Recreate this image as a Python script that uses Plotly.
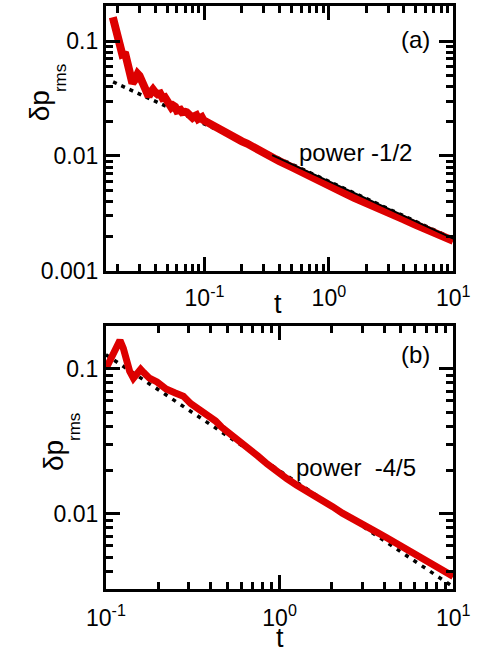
import plotly.graph_objects as go

W, H = 485, 664

# ---- panel (a): rms pressure fluctuation vs time ----
t_a = [0.0183, 0.0190, 0.0197, 0.0204, 0.0212, 0.0218, 0.0224, 0.0229, 0.0236, 0.0245,
       0.0255, 0.0263, 0.0275, 0.0290, 0.0300, 0.0315, 0.0330, 0.0345, 0.0355, 0.0370,
       0.0385, 0.0400, 0.0420, 0.0440, 0.0460, 0.0480, 0.0500, 0.0520, 0.0540, 0.0560,
       0.0580, 0.0600, 0.0620, 0.0640, 0.0660, 0.0680, 0.0700, 0.0720, 0.0740, 0.0770,
       0.0800, 0.0830, 0.0860, 0.0890, 0.0920, 0.0950, 0.0980, 0.1020, 0.1060, 0.1100,
       0.1150, 0.1200, 0.1250, 0.1300, 0.1350, 0.1400, 0.1500, 0.1600, 0.1700, 0.1800,
       0.1900, 0.2000, 0.2200, 0.2400, 0.2700, 0.3000, 0.3500, 0.4000, 0.5000, 0.6000,
       0.7000, 0.8000, 1.0000, 1.3000, 1.6000, 2.0000, 2.5000, 3.0000, 4.0000, 5.0000,
       6.0000, 7.0000, 8.0000, 9.0000, 10.000]
p_a = [0.162, 0.140, 0.122, 0.104, 0.088, 0.077, 0.078, 0.080, 0.068, 0.058,
       0.048, 0.043, 0.046, 0.052, 0.050, 0.044, 0.039, 0.035, 0.033, 0.036,
       0.038, 0.036, 0.0345, 0.0350, 0.0320, 0.0325, 0.0300, 0.0280, 0.0265, 0.0275,
       0.0268, 0.0248, 0.0255, 0.0252, 0.0240, 0.0236, 0.0242, 0.0240, 0.0232, 0.0228,
       0.0215, 0.0222, 0.0226, 0.0210, 0.0212, 0.0218, 0.0205, 0.0200, 0.0192, 0.0190,
       0.0183, 0.0180, 0.0175, 0.0168, 0.0170, 0.0163, 0.0157, 0.0152, 0.0147, 0.0143,
       0.0137, 0.0134, 0.0128, 0.0121, 0.0113, 0.0106, 0.0097, 0.0090, 0.0080, 0.0072,
       0.0066, 0.0062, 0.0055, 0.0048, 0.0043, 0.0039, 0.0035, 0.0032, 0.0028, 0.0025,
       0.00228, 0.00213, 0.00200, 0.00190, 0.00182]

# power-law guide  C * t^k
fit_a_C, fit_a_k = 0.006, -0.5
fit_a_t = [0.0184, 10.0]        # dotted guide extent
solid_a_t = [0.35, 10.0]        # solid black curve extent

# ---- panel (b) ----
t_b = [0.100, 0.105, 0.112, 0.1205, 0.126, 0.131, 0.137, 0.144, 0.150, 0.1585,
       0.165, 0.178, 0.197, 0.222, 0.251, 0.279, 0.308, 0.342, 0.386, 0.428,
       0.464, 0.530, 0.630, 0.750, 0.850, 0.949, 1.10, 1.25, 1.426, 1.60,
       1.82, 2.02, 2.30, 2.74, 3.20, 3.60, 4.12, 5.00, 6.20, 7.50,
       8.50, 9.73, 10.0]
p_b = [0.100, 0.112, 0.136, 0.157, 0.138, 0.115, 0.096, 0.086, 0.092, 0.099,
       0.094, 0.086, 0.081, 0.0724, 0.068, 0.0647, 0.0574, 0.0526, 0.0479, 0.0436,
       0.0395, 0.0350, 0.0301, 0.0250, 0.0220, 0.0198, 0.0175, 0.0158, 0.0145, 0.0131,
       0.0121, 0.0112, 0.0101, 0.0091, 0.0081, 0.0075, 0.00686, 0.0060, 0.0051, 0.0045,
       0.0041, 0.00377, 0.0037]

fit_b_C, fit_b_k = 0.0198, -0.8
fit_b_t = [0.1, 10.0]

x_tickvals = [0.1, 1, 10]
x_ticktext = ["10<sup>-1</sup>", "10<sup>0</sup>", "10<sup>1</sup>"]
ya_tickvals = [0.001, 0.01, 0.1]
ya_ticktext = ["0.001", "0.01", "0.1"]
yb_tickvals = [0.01, 0.1]
yb_ticktext = ["0.01", "0.1"]

RED = "#dd0000"
FONT = "Liberation Sans, Arial, sans-serif"


def power(C, k, ts):
    return [C * t ** k for t in ts]


fig = go.Figure()

# (a)
fig.add_trace(go.Scatter(x=fit_a_t, y=power(fit_a_C, fit_a_k, fit_a_t), mode="lines",
                         line=dict(color="black", width=3.5, dash="4px,5px"),
                         xaxis="x", yaxis="y"))
fig.add_trace(go.Scatter(x=t_a, y=p_a, mode="lines", line=dict(color=RED, width=8),
                         xaxis="x", yaxis="y"))
fig.add_trace(go.Scatter(x=solid_a_t, y=power(fit_a_C, fit_a_k, solid_a_t), mode="lines",
                         line=dict(color="black", width=2), xaxis="x", yaxis="y"))

# (b)
fig.add_trace(go.Scatter(x=fit_b_t, y=power(fit_b_C, fit_b_k, fit_b_t), mode="lines",
                         line=dict(color="black", width=3.5, dash="4px,6px"),
                         xaxis="x2", yaxis="y2"))
fig.add_trace(go.Scatter(x=t_b, y=p_b, mode="lines", line=dict(color=RED, width=7),
                         xaxis="x2", yaxis="y2"))


def px(x):
    return x / W


def py(y):
    return 1 - y / H


def axis_style(**kw):
    d = dict(type="log", showline=True, linewidth=3, linecolor="black", mirror="ticks",
             ticks="inside", ticklen=14, tickwidth=2.5, tickcolor="black",
             showgrid=False, zeroline=False, ticklabeloverflow="allow",
             tickfont=dict(family=FONT, size=23, color="black"),
             minor=dict(ticks="inside", ticklen=7, tickwidth=2.5, tickcolor="black",
                        dtick="D1", showgrid=False))
    d.update(kw)
    return d


fig.update_layout(
    width=W, height=H, margin=dict(l=0, r=0, t=0, b=0),
    paper_bgcolor="white", plot_bgcolor="white", showlegend=False,
    xaxis=axis_style(range=[-1.793, 1], domain=[px(93), px(469)], anchor="y",
                     tickmode="array", tickvals=x_tickvals, ticktext=x_ticktext,
                     ticklabelstandoff=5),
    yaxis=axis_style(range=[-3, -0.692], domain=[py(276), py(6)], anchor="x",
                     tickmode="array", tickvals=ya_tickvals, ticktext=ya_ticktext),
    xaxis2=axis_style(range=[-1, 1], domain=[px(93), px(469)], anchor="y2",
                      tickmode="array", tickvals=x_tickvals, ticktext=x_ticktext,
                      ticklabelstandoff=6),
    yaxis2=axis_style(range=[-2.52, -0.709], domain=[py(601), py(333)], anchor="x2",
                      tickmode="array", tickvals=yb_tickvals, ticktext=yb_ticktext),
)


def label(text, x, y, size, angle=0):
    fig.add_annotation(text=text, x=px(x), y=py(y), xref="paper", yref="paper",
                       showarrow=False, textangle=angle, xanchor="center", yanchor="middle",
                       font=dict(family=FONT, size=size, color="black"))


# panel tags and power-law notes
label("(a)", 428, 40, 24)
label("power -1/2", 363, 156, 24)
label("(b)", 428, 362, 24)
label("power\u00a0 -4/5", 364, 477, 24)

# axis titles
label("t", 279, 310, 27)
label("t", 282, 651, 27)
label("δp", 21, 108, 28, -90)
label("rms", 44, 80, 17, -90)
label("δp", 37, 465, 28, -90)
label("rms", 59, 435, 17, -90)

fig.write_html("out.html")
